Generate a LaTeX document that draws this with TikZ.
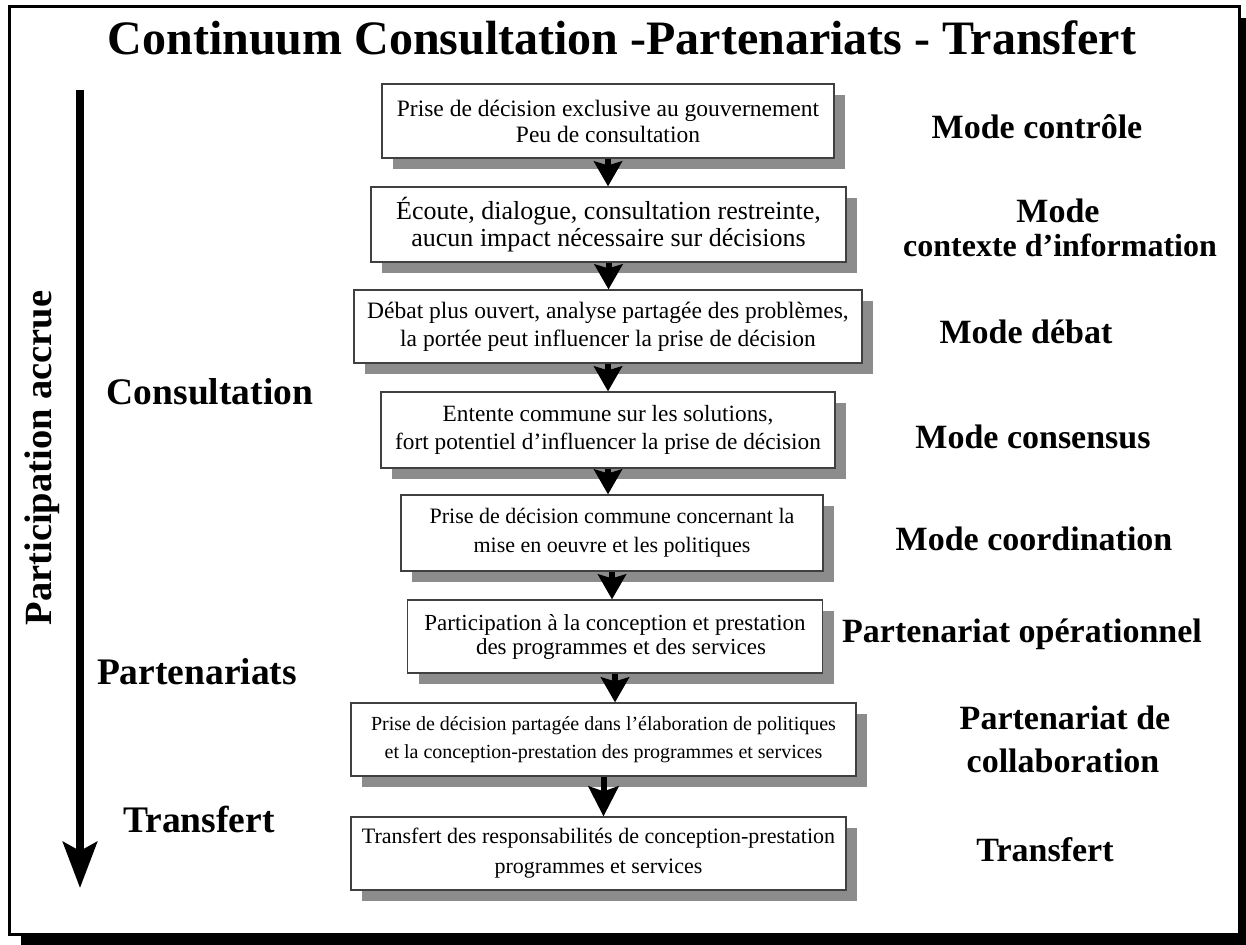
\documentclass[tikz,border=0pt]{standalone}
\usepackage{fontspec}
\setmainfont{Liberation Serif}
\usetikzlibrary{arrows.meta,shadows}
\begin{document}
\begin{tikzpicture}[x=1pt,y=-1pt,
  box/.style={draw=black!75, line width=1.2pt, fill=white, inner sep=0pt, align=center,
    drop shadow={shadow xshift=11pt, shadow yshift=-11pt, fill=black!45, opacity=1}},
  flow/.style={line width=6pt, -{Stealth[length=25pt,width=28pt,inset=4pt]}},
  bigflow/.style={line width=6pt, -{Stealth[length=30pt,width=30pt,inset=5pt]}},
  bigarrow/.style={line width=8pt, -{Stealth[length=46pt,width=34pt,inset=9pt]}},
  rlabel/.style={anchor=base, font=\fontsize{34}{40}\selectfont\bfseries, inner sep=0pt},
  llabel/.style={anchor=base, font=\fontsize{37.5}{42}\selectfont\bfseries, inner sep=0pt},
]
\useasboundingbox (0,0) rectangle (1246,944);
% outer frame with shadow
\fill[black] (21,18) rectangle (1256,950);
\draw[line width=3pt, fill=white] (9.5,6.5) rectangle (1239.5,934.5);

% title
\node[anchor=base, inner sep=0pt, font=\fontsize{48}{54}\selectfont\bfseries] (title) at (622,55)
  {Continuum Consultation -Partenariats - Transfert};

% boxes
\node[box, minimum width=452pt, minimum height=74pt, font=\fontsize{23.5}{26}\selectfont] (b1) at (608,121)
  {Prise de décision exclusive au gouvernement\\Peu de consultation};
\node[box, minimum width=475pt, minimum height=75pt, font=\fontsize{26}{27}\selectfont] (b2) at (608.5,224.5)
  {Écoute, dialogue, consultation restreinte,\\aucun impact nécessaire sur décisions};
\node[box, minimum width=508pt, minimum height=73pt, font=\fontsize{23.5}{28}\selectfont] (b3) at (608,326.5)
  {Débat plus ouvert, analyse partagée des problèmes,\\la portée peut influencer la prise de décision};
\node[box, minimum width=454pt, minimum height=76pt, font=\fontsize{23.3}{28}\selectfont] (b4) at (608,430)
  {Entente commune sur les solutions,\\fort potentiel d’influencer la prise de décision};
\node[box, minimum width=422pt, minimum height=76pt, font=\fontsize{22}{29}\selectfont] (b5) at (612,533)
  {Prise de décision commune concernant la\\mise en oeuvre et les politiques};
\node[box, minimum width=415pt, minimum height=73pt, font=\fontsize{23}{24}\selectfont] (b6) at (615,636.5)
  {Participation à la conception et prestation\\\hspace*{12pt}des programmes et des services};
\node[box, minimum width=505pt, minimum height=73pt, font=\fontsize{20}{28}\selectfont] (b7) at (603.5,739.5)
  {Prise de décision partagée dans l’élaboration de politiques\\et la conception-prestation des programmes et services};
\node[box, minimum width=495pt, minimum height=73pt, font=\fontsize{22}{30}\selectfont] (b8) at (598.5,853.5)
  {Transfert des responsabilités de conception-prestation\\programmes et services};

% flow arrows
\draw[flow] (b1.south) -- (b1.south |- b2.north);
\draw[flow] (b2.south) -- (b2.south |- b3.north);
\draw[flow] (b3.south) -- (b3.south |- b4.north);
\draw[flow] (b4.south) -- (b4.south |- b5.north);
\draw[flow] (b5.south) -- (b5.south |- b6.north);
\draw[flow] (b6.south) -- (b6.south |- b7.north);
\draw[bigflow] (b7.south) -- (b7.south |- b8.north);

% left arrow
\coordinate (pa1) at (80,90);
\coordinate (pa2) at (80,888);
\draw[bigarrow] (pa1) -- (pa2);
\node[rotate=90, anchor=base, inner sep=0pt, font=\fontsize{38.5}{44}\selectfont\bfseries] (part) at (51,458)
  {Participation accrue};

% left labels
\node[llabel] (lc) at (210,404) {Consultation};
\node[llabel] (lp) at (197,684) {Partenariats};
\node[llabel] (lt) at (199,832) {Transfert};

% right labels
\node[rlabel] (r1) at (1037,139) {Mode contrôle};
\node[rlabel] (r2a) at (1058,222) {Mode};
\node[rlabel, font=\fontsize{32}{38}\selectfont\bfseries] (r2b) at (1060,256) {contexte d’information};
\node[rlabel] (r3) at (1026,343) {Mode débat};
\node[rlabel] (r4) at (1033,448) {Mode consensus};
\node[rlabel] (r5) at (1034,550) {Mode coordination};
\node[rlabel] (r6) at (1022,642) {Partenariat opérationnel};
\node[rlabel] (r7a) at (1065,729) {Partenariat de};
\node[rlabel] (r7b) at (1063,772) {collaboration};
\node[rlabel] (r8) at (1045,861) {Transfert};
\end{tikzpicture}
\end{document}
